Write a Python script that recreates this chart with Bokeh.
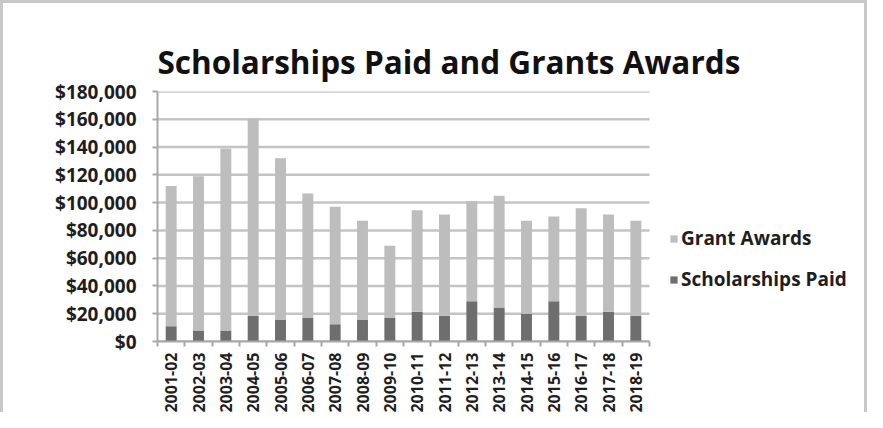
from bokeh.plotting import figure
from bokeh.models import ColumnDataSource, FixedTicker, NumeralTickFormatter, Legend, LegendItem, Range1d
from bokeh.embed import file_html
from bokeh.resources import INLINE
import math

years = ["2001-02", "2002-03", "2003-04", "2004-05", "2005-06", "2006-07", "2007-08",
         "2008-09", "2009-10", "2010-11", "2011-12", "2012-13", "2013-14", "2014-15",
         "2015-16", "2016-17", "2017-18", "2018-19"]
scholarships = [11000, 8000, 8000, 18500, 15500, 17000, 12500, 15500, 17000, 21500,
                18500, 29000, 24500, 20000, 29000, 18500, 21500, 18500]
totals = [112000, 119000, 139000, 160500, 132000, 106500, 97000, 87000, 69000, 94500,
          91500, 101000, 105000, 87000, 90000, 96000, 91500, 87000]
grants = [t - s for t, s in zip(totals, scholarships)]
y_ticks = [0, 20000, 40000, 60000, 80000, 100000, 120000, 140000, 160000, 180000]

FONT = "Open Sans"
TXT = "#1e1e1e"

n = len(years)
xs = list(range(1, n + 1))
source = ColumnDataSource(dict(x=xs, year=years, schol=scholarships, grant=grants))

LEFT = 154
# frame spans the bar area plus the legend area on the right (bar area = 492px for n categories)
frame_w = 867 - LEFT - 10
x_end = 0.5 + frame_w / (492.0 / n)

p = figure(width=867, height=412, output_backend="svg", toolbar_location=None,
           x_range=Range1d(0.5, x_end), y_range=Range1d(0, 180000),
           title="Scholarships Paid and Grants Awards")
p.styles = {"border-left": "3px solid #c8c8c8",
            "border-right": "3px solid #c8c8c8", "border-top": "3px solid #c8c8c8"}
p.min_border_left = LEFT
p.min_border_right = 10
p.min_border_top = 88
p.min_border_bottom = 70
p.outline_line_color = None
p.background_fill_color = "white"
p.border_fill_color = "white"

p.title.text_font = FONT
p.title.text_font_size = "31.5px"
p.title.text_font_style = "bold"
p.title.text_color = "#111111"
p.title.align = "left"
p.title.offset = 0
p.title.standoff = 17

# horizontal gridlines limited to the bar area
p.xgrid.grid_line_color = None
p.ygrid.grid_line_color = None
p.segment(x0=[0.5] * len(y_ticks), x1=[n + 0.5] * len(y_ticks), y0=y_ticks, y1=y_ticks,
          line_color="#c4c4c4", line_width=2.5)

r = p.vbar_stack(["schol", "grant"], x="x", width=0.4, source=source,
                 color=["#6e6e6e", "#bdbdbd"], line_color=None)

# axes
p.yaxis.ticker = FixedTicker(ticks=y_ticks)
p.yaxis.formatter = NumeralTickFormatter(format="$0,0")
p.yaxis.axis_line_color = "#a8a8a8"
p.yaxis.axis_line_width = 2
p.yaxis.major_tick_line_color = "#a8a8a8"
p.yaxis.major_tick_line_width = 2
p.yaxis.major_tick_out = 5
p.yaxis.major_tick_in = 0
p.yaxis.minor_tick_line_color = None
p.yaxis.major_label_text_font = FONT
p.yaxis.major_label_text_font_size = "19px"
p.yaxis.major_label_text_font_style = "bold"
p.yaxis.major_label_text_color = TXT
p.yaxis.major_label_standoff = 16

p.xaxis.bounds = (0.5, n + 0.5)
p.xaxis.ticker = FixedTicker(ticks=xs, minor_ticks=[x + 0.5 for x in range(0, n + 1)])
p.xaxis.major_label_overrides = {x: y for x, y in zip(xs, years)}
p.xaxis.major_label_orientation = math.pi / 2
p.xaxis.axis_line_color = "#a8a8a8"
p.xaxis.axis_line_width = 2
p.xaxis.major_tick_line_color = None
p.xaxis.minor_tick_line_color = "#a8a8a8"
p.xaxis.minor_tick_line_width = 2
p.xaxis.minor_tick_out = 5
p.xaxis.minor_tick_in = 0
p.xaxis.major_label_text_font = FONT
p.xaxis.major_label_text_font_size = "16px"
p.xaxis.major_label_text_font_style = "bold"
p.xaxis.major_label_text_color = TXT
p.xaxis.major_label_standoff = 5

legend = Legend(items=[LegendItem(label="Grant Awards", renderers=[r[1]]),
                       LegendItem(label="Scholarships Paid", renderers=[r[0]])],
                location=(512, 49), padding=0, margin=0, spacing=15,
                glyph_width=9, glyph_height=9, label_height=20, label_standoff=3,
                border_line_color=None, background_fill_alpha=0)
legend.label_text_font = FONT
legend.label_text_font_size = "19px"
legend.label_text_font_style = "bold"
legend.label_text_color = TXT
p.add_layout(legend, "center")

open("out.html", "w").write(file_html(p, INLINE))
